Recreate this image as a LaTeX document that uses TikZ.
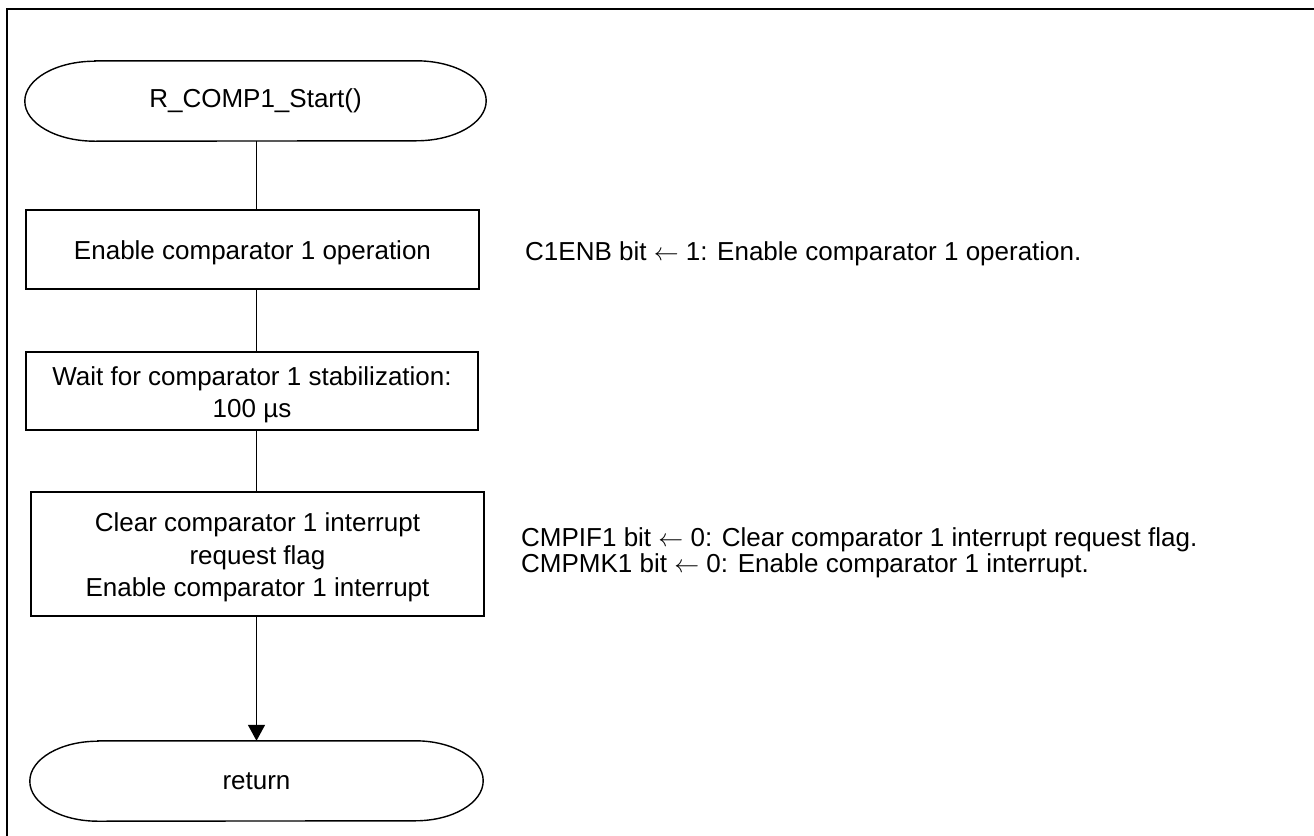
\documentclass[tikz,border=0pt]{standalone}
\usepackage{fontspec}
\setmainfont{Liberation Sans}
\usetikzlibrary{arrows.meta}
\newcommand{\topstrut}{\rule{0pt}{26pt}}
\tikzset{
  flowline/.style={line width=1.4pt, black},
  procbox/.style={draw=black, line width=1.4pt, align=center, inner sep=0pt,
    font=\fontsize{26}{32.5}\selectfont},
  termtext/.style={draw=none, inner sep=0pt, font=\fontsize{26}{32.5}\selectfont},
  notetext/.style={inner sep=0pt, anchor=base west, font=\fontsize{26}{25.5}\selectfont},
}
\newcommand{\termshape}[3]{% node, rx, ry
  \draw[flowline] ([xshift=#2pt]#1.north west) -- ([xshift=-#2pt]#1.north east)
    arc[start angle=90, end angle=-90, x radius=#2pt, y radius=#3pt]
    -- ([xshift=#2pt]#1.south west)
    arc[start angle=270, end angle=90, x radius=#2pt, y radius=#3pt] -- cycle;}
\begin{document}
\begin{tikzpicture}[x=1pt, y=-1pt]
\useasboundingbox (0,0) rectangle (1314,835);
\clip (0,0) rectangle (1314,835);
\fill[white] (0,0) rectangle (1314,835);
\draw[line width=2.3pt] (7,9) rectangle (1340,860);

\coordinate (cx) at (256.5,0);

\node[termtext, minimum width=461pt, minimum height=80pt] (start) at (255.5,101) {R\_COMP1\_Start()};
\termshape{start}{70}{40}

\node[procbox, minimum width=453pt, minimum height=79pt] (b1) at (252.5,249.5) {\topstrut Enable comparator 1 operation};
\node[procbox, minimum width=452pt, minimum height=78pt] (b2) at (252,391) {\topstrut Wait for comparator 1 stabilization:\\100 µs};
\node[procbox, minimum width=453pt, minimum height=124pt] (b3) at (257.5,554) {\topstrut Clear comparator 1 interrupt\\request flag\\Enable comparator 1 interrupt};

\node[termtext, minimum width=453pt, minimum height=80pt] (ret) at (256.5,781) {return};
\termshape{ret}{68}{40}

\draw[flowline] (start.south -| cx) -- (b1.north -| cx);
\draw[flowline] (b1.south -| cx) -- (b2.north -| cx);
\draw[flowline] (b2.south -| cx) -- (b3.north -| cx);
\draw[flowline, -{Triangle[length=16pt, width=17pt]}] (b3.south -| cx) -- (ret.north -| cx);

\node[notetext] (n1) at (525,260) {C1ENB bit \(\leftarrow\) 1: Enable comparator 1 operation.};
\node[notetext] (n2) at (521,546.5) {CMPIF1 bit \(\leftarrow\) 0: Clear comparator 1 interrupt request flag.};
\node[notetext] (n3) at (521,572) {CMPMK1 bit \(\leftarrow\) 0: Enable comparator 1 interrupt.};
\end{tikzpicture}
\end{document}
